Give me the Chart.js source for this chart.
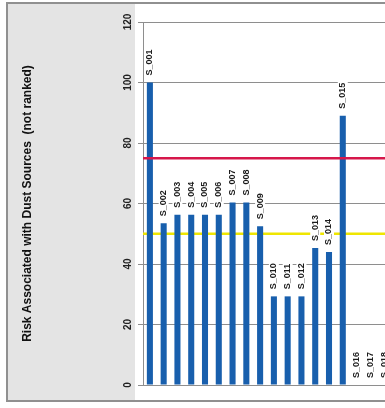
<!DOCTYPE html>
<html>
<head>
<meta charset="utf-8">
<script src="https://cdn.jsdelivr.net/npm/chart.js@4"></script>
<style>
  html, body { margin: 0; padding: 0; background: #fff; }
  #wrap { width: 385px; height: 408px; overflow: hidden; position: relative; }
  #chart { position: absolute; left: 0; top: 0; }
</style>
</head>
<body>
<div id="wrap"><canvas id="chart" width="400" height="408"></canvas></div>
<script>
// data
var sources = ['S_001', 'S_002', 'S_003', 'S_004', 'S_005', 'S_006', 'S_007', 'S_008', 'S_009',
               'S_010', 'S_011', 'S_012', 'S_013', 'S_014', 'S_015', 'S_016', 'S_017', 'S_018'];
var risk = [100, 53.5, 56.3, 56.3, 56.3, 56.3, 60.3, 60.3, 52.5,
            29.3, 29.3, 29.3, 45.3, 44, 89, 0, 0, 0];
var yTicks = [0, 20, 40, 60, 80, 100, 120];
var upperLimit = 75;   // red line
var lowerLimit = 50;   // yellow line
var yTitle = 'Risk Associated with Dust Sources  (not ranked)';

var FONT = "'Liberation Sans Narrow', 'Liberation Sans', Arial, sans-serif";
Chart.defaults.font.family = FONT;

// grey panel + frame behind the chart
function drawFrame(chart) {
  var ctx = chart.ctx;
  ctx.save();
  ctx.fillStyle = '#fff';
  ctx.fillRect(0, 0, chart.width, chart.height);
  ctx.fillStyle = '#e4e4e4';
  ctx.fillRect(8, 4, 127, 396);
  ctx.strokeStyle = '#909090';
  ctx.lineWidth = 2;
  ctx.strokeRect(7, 3, chart.width + 10, 398);
  ctx.restore();
}

function drawLimit(chart, value, color) {
  var y = chart.scales.y.getPixelForValue(value);
  var area = chart.chartArea;
  var ctx = chart.ctx;
  ctx.save();
  ctx.strokeStyle = color;
  ctx.lineWidth = 2.5;
  ctx.beginPath();
  ctx.moveTo(area.left, y);
  ctx.lineTo(area.right, y);
  ctx.stroke();
  ctx.restore();
}

// source names standing on top of each bar
function drawBarLabels(chart) {
  var ctx = chart.ctx;
  var meta = chart.getDatasetMeta(0);
  ctx.save();
  ctx.font = 'bold 9px ' + FONT;
  meta.data.forEach(function(bar, i) {
    var text = sources[i];
    var w = ctx.measureText(text).width;
    ctx.save();
    ctx.translate(bar.x, bar.y - 7);
    ctx.rotate(-Math.PI / 2);
    ctx.fillStyle = '#fff';
    ctx.fillRect(-1, -5, w + 2, 10);
    ctx.fillStyle = '#1b1b1b';
    ctx.textAlign = 'left';
    ctx.textBaseline = 'middle';
    ctx.fillText(text, 0, 0);
    ctx.restore();
  });
  ctx.restore();
}

var chart = new Chart(document.getElementById('chart'), {
  type: 'bar',
  data: {
    labels: sources,
    datasets: [{
      data: risk,
      backgroundColor: '#185fad',
      barPercentage: 0.44,
      categoryPercentage: 1
    }]
  },
  options: {
    responsive: false,
    animation: false,
    layout: { padding: { left: 0, right: 9, top: 22, bottom: 23 } },
    plugins: { legend: { display: false }, tooltip: { enabled: false } },
    scales: {
      x: { display: false },
      y: {
        min: 0, max: 120,
        afterBuildTicks: function(s) { s.ticks = yTicks.map(function(v) { return { value: v }; }); },
        afterFit: function(s) { s.width = 143; },
        grid: { color: '#8e8e8e', tickLength: 5 },
        border: { color: '#8e8e8e' },
        ticks: {
          minRotation: 90, maxRotation: 90,
          crossAlign: 'center', padding: 1,
          color: '#222',
          font: { size: 10, weight: 'bold' }
        },
        title: {
          display: true, text: yTitle, color: '#111',
          font: { size: 12, weight: 'bold' },
          padding: { top: 20, bottom: 0 }
        }
      }
    }
  },
  plugins: [{
    beforeDraw: drawFrame,
    beforeDatasetsDraw: function(c) { drawLimit(c, lowerLimit, '#efe600'); },
    afterDatasetsDraw: function(c) { drawLimit(c, upperLimit, '#d6174b'); drawBarLabels(c); }
  }]
});
</script>
</body>
</html>
